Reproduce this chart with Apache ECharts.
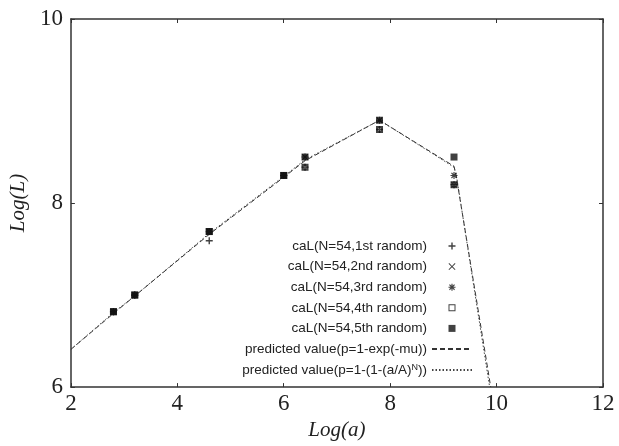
<!DOCTYPE html>
<html>
<head>
<meta charset="utf-8">
<script src="https://cdn.jsdelivr.net/npm/echarts@6/dist/echarts.min.js"></script>
<style>
  html, body { margin: 0; padding: 0; background: #fff; }
  #chart { width: 619px; height: 446px; }
</style>
</head>
<body>
<div id="chart"></div>
<script>
// Log(a) sample positions shared by the five random runs
const logA = [2.8, 3.2, 4.6, 6.0, 6.4, 7.8, 9.2];

// Log(L) for each random run
const run1 = [6.82, 7.00, 7.59, 8.30, 8.39, 8.80, 8.20];
const run2 = [6.82, 7.00, 7.69, 8.30, 8.50, 8.90, 8.20];
const run3 = [6.82, 7.00, 7.69, 8.30, 8.50, 8.90, 8.30];
const run4 = [6.82, 7.00, 7.69, 8.30, 8.39, 8.80, 8.20];
const run5 = [6.82, 7.00, 7.69, 8.30, 8.50, 8.90, 8.50];

// predicted value, p = 1 - exp(-mu)
const predMuA = [2.0, 2.8, 3.2, 4.6, 6.0, 6.4, 7.8, 9.2, 9.24, 9.89];
const predMuL = [6.41, 6.80, 6.99, 7.66, 8.28, 8.46, 8.90, 8.40, 8.30, 6.00];

// predicted value, p = 1 - (1 - (a/A)^N)
const predNA = [2.0, 2.8, 3.2, 4.6, 6.0, 6.4, 7.8, 9.2, 9.25, 9.87];
const predNL = [6.41, 6.81, 6.99, 7.67, 8.29, 8.47, 8.90, 8.39, 8.28, 6.00];

// axis ranges
const xRange = { min: 2, max: 12, step: 2 };
const yRange = { min: 6, max: 10, step: 2 };

const names = [
  'caL(N=54,1st random)',
  'caL(N=54,2nd random)',
  'caL(N=54,3rd random)',
  'caL(N=54,4th random)',
  'caL(N=54,5th random)',
  'predicted value(p=1-exp(-mu))',
  'predicted value(p=1-(1-(a/A)^N))'
];

const pairs = (xs, ys) => xs.map((x, i) => [x, ys[i]]);

// marker outlines
const PLUS = 'path://M4,0h2v4h4v2h-4v4h-2v-4h-4v-2h4z';
const CROSS = 'path://M1,0L5,4L9,0L10,1L6,5L10,9L9,10L5,6L1,10L0,9L4,5L0,1Z';
const STAR = 'path://M4.2,0h1.6v3.1L8.1,0.8L9.2,1.9L6.9,4.2H10v1.6H6.9L9.2,8.1L8.1,9.2L5.8,6.9V10H4.2V6.9L1.9,9.2L0.8,8.1L3.1,5.8H0V4.2H3.1L0.8,1.9L1.9,0.8L4.2,3.1Z';
const SQUARE = 'path://M0,0h10v10h-10z';
const HOLLOW = 'path://M0,0h10v10h-10z M1.4,1.4v7.2h7.2v-7.2z';
const HOLLOW_SMALL = 'path://M0,0h10v10h-10z M3.2,3.2v3.6h3.6v-3.6z';

const serif = '"Liberation Serif", "DejaVu Serif", serif';
const sans = '"Liberation Sans", Arial, sans-serif';
const ink = '#222';

function scatter(name, data, symbol, size, z) {
  return {
    name, type: 'scatter', data: pairs(logA, data),
    symbol, symbolSize: size, z,
    itemStyle: { color: '#111', borderWidth: 0 }
  };
}

const axisCommon = {
  type: 'value',
  axisLine: { show: true, lineStyle: { color: '#333', width: 1.5 } },
  axisTick: { show: true, inside: true, length: 4, lineStyle: { color: '#333', width: 1 } },
  splitLine: { show: false }
};

const clear = { color: 'rgba(0,0,0,0)', borderWidth: 0 };

const chart = echarts.init(document.getElementById('chart'), null, { renderer: 'canvas' });

chart.setOption({
  animation: false,
  backgroundColor: '#fff',
  grid: { left: 68, right: 16, top: 19, bottom: 49, containLabel: false },
  xAxis: [
    Object.assign({}, axisCommon, {
      position: 'bottom', min: xRange.min, max: xRange.max, interval: xRange.step,
      name: 'Log(a)', nameLocation: 'middle', nameGap: 24,
      nameTextStyle: { fontFamily: serif, fontStyle: 'italic', fontSize: 21, color: ink },
      axisLabel: { fontFamily: serif, fontSize: 23, color: ink, margin: 5 }
    }),
    Object.assign({}, axisCommon, {
      position: 'top', min: xRange.min, max: xRange.max, interval: xRange.step,
      axisLabel: { show: false }
    })
  ],
  yAxis: [
    Object.assign({}, axisCommon, {
      position: 'left', min: yRange.min, max: yRange.max, interval: yRange.step,
      name: 'Log(L)', nameLocation: 'middle', nameGap: 37,
      nameTextStyle: { fontFamily: serif, fontStyle: 'italic', fontSize: 21, color: ink },
      axisLabel: { fontFamily: serif, fontSize: 23, color: ink, margin: 8 }
    }),
    Object.assign({}, axisCommon, {
      position: 'right', min: yRange.min, max: yRange.max, interval: yRange.step,
      axisLabel: { show: false }
    })
  ],
  legend: {
    orient: 'vertical',
    align: 'right',
    right: 146,
    top: 239,
    padding: 0,
    itemWidth: 40,
    itemHeight: 7,
    itemGap: 6.6,
    selectedMode: false,
    data: [
      { name: names[0], icon: PLUS },
      { name: names[1], icon: CROSS },
      { name: names[2], icon: STAR },
      { name: names[3], icon: HOLLOW },
      { name: names[4], icon: SQUARE },
      { name: names[5], itemStyle: clear },
      { name: names[6], itemStyle: clear }
    ],
    formatter: function (n) {
      if (n.indexOf('^N') >= 0) {
        return '{t|predicted value(p=1-(1-(a/A)}{sup|N}{t|))}';
      }
      return '{t|' + n + '}';
    },
    textStyle: {
      color: ink,
      rich: {
        t: { fontFamily: sans, fontSize: 13.5, color: ink, lineHeight: 14 },
        sup: { fontFamily: sans, fontSize: 9, color: ink, lineHeight: 9, verticalAlign: 'middle', padding: [0, 0, 6, 0] }
      }
    }
  },
  series: [
    scatter(names[0], run1, PLUS, 7, 3),
    scatter(names[1], run2, CROSS, 6, 3),
    scatter(names[2], run3, STAR, 7, 3),
    scatter(names[3], run4, HOLLOW_SMALL, 7, 3),
    scatter(names[4], run5, SQUARE, 7, 4),
    {
      name: names[5], type: 'line', data: pairs(predMuA, predMuL),
      symbol: 'none', smooth: false, z: 2,
      itemStyle: { color: '#333' },
      lineStyle: { color: '#333', width: 1, type: [5, 3] }
    },
    {
      name: names[6], type: 'line', data: pairs(predNA, predNL),
      symbol: 'none', smooth: false, z: 2,
      itemStyle: { color: '#444' },
      lineStyle: { color: '#444', width: 1, type: [1.5, 2] }
    }
  ]
});
</script>
</body>
</html>
